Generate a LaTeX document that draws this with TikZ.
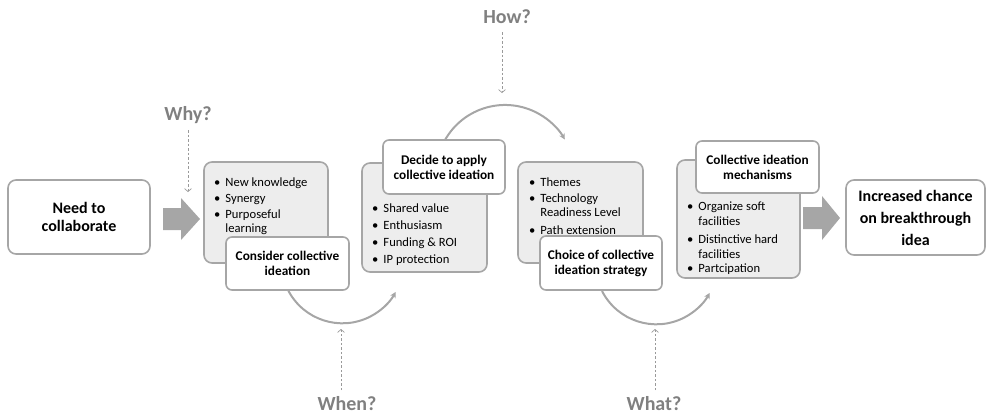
\documentclass[tikz,border=0pt]{standalone}
\usepackage{fontspec}
\setmainfont{Carlito}
\usetikzlibrary{arrows.meta}
\definecolor{bord}{HTML}{A6A6A6}
\definecolor{gfill}{HTML}{EDEDED}
\definecolor{qgray}{HTML}{808080}
\definecolor{dgray}{HTML}{9A9A9A}
\begin{document}
\begin{tikzpicture}[x=1pt,y=1pt,
  wbox/.style={draw=bord, line width=1.6pt, fill=white, rounded corners=6pt, align=center, inner sep=0pt, font=\fontsize{13.3}{15}\selectfont\bfseries},
  endbox/.style={draw=bord, line width=1.6pt, fill=white, rounded corners=8pt, align=center, inner sep=0pt},
  gbox/.style={draw=bord, line width=1.6pt, fill=gfill, rounded corners=8pt, inner sep=0pt},
  lst/.style={anchor=north west, inner sep=0pt, align=left, font=\fontsize{12.6}{15}\selectfont},
  qlabel/.style={text=qgray, inner sep=0pt, font=\fontsize{20}{22}\selectfont\bfseries},
  qarrow/.style={draw=dgray, line width=0.7pt, dash pattern=on 2.5pt off 2pt, -{Straight Barb[length=3pt,width=7pt]}},
  cyc/.style={draw=bord, line width=2pt, -{Stealth[length=6pt,width=6pt]}},
  blockarrow/.style={fill=bord, draw=none}
]
\useasboundingbox (0,0) rectangle (987,-415);

% start and end boxes
\node[endbox, minimum width=142pt, minimum height=74pt, font=\fontsize{16}{18}\selectfont\bfseries] (start) at (79,-217) {Need to\\collaborate};
\node[endbox, minimum width=139pt, minimum height=75pt, font=\fontsize{16}{22}\selectfont\bfseries] (end) at (915.5,-217.5) {Increased chance\\on breakthrough\\idea};

% block arrows
\path[blockarrow] (163,-208) -- (181,-208) -- (181,-198) -- (200,-219) -- (181,-240) -- (181,-230) -- (163,-230) -- cycle;
\path[blockarrow] (803,-207) -- (822,-207) -- (822,-196) -- (840,-218) -- (822,-240) -- (822,-229) -- (803,-229) -- cycle;

% gray boxes
\node[gbox, minimum width=124pt, minimum height=101pt] (g1) at (266,-212.5) {};
\node[gbox, minimum width=125pt, minimum height=109pt] (g2) at (424.5,-217.5) {};
\node[gbox, minimum width=125pt, minimum height=101pt] (g3) at (580.5,-212.5) {};
\node[gbox, minimum width=123pt, minimum height=118pt] (g4) at (738.5,-219) {};

% bullet lists
\node[lst] (l1) at (214,-175.5) {\begin{tabular}{@{}l@{\hspace{5pt}}l@{}}
\textbullet & New knowledge\\[1pt]
\textbullet & Synergy\\[1pt]
\textbullet & Purposeful\\[-1pt]
 & learning
\end{tabular}};
\node[lst] (l2) at (372,-202) {\begin{tabular}{@{}l@{\hspace{5pt}}l@{}}
\textbullet & Shared value\\[2pt]
\textbullet & Enthusiasm\\[2pt]
\textbullet & Funding \& ROI\\[2pt]
\textbullet & IP protection
\end{tabular}};
\node[lst] (l3) at (529,-176) {\begin{tabular}{@{}l@{\hspace{5pt}}l@{}}
\textbullet & Themes\\[1pt]
\textbullet & Technology\\[-1pt]
 & Readiness Level\\[3pt]
\textbullet & Path extension
\end{tabular}};
\node[lst] (l4) at (687,-199.5) {\begin{tabular}{@{}l@{\hspace{5pt}}l@{}}
\textbullet & Organize soft\\
 & facilities\\[3pt]
\textbullet & Distinctive hard\\
 & facilities\\[-1pt]
\textbullet & Partcipation
\end{tabular}};

% white title boxes
\node[wbox, minimum width=123pt, minimum height=53pt] (w1) at (287.5,-263.5) {Consider collective\\ideation};
\node[wbox, minimum width=122pt, minimum height=54pt] (w2) at (444,-167) {Decide to apply\\collective ideation};
\node[wbox, minimum width=122pt, minimum height=54pt] (w3) at (601,-263) {Choice of collective\\ideation strategy};
\node[wbox, minimum width=123pt, minimum height=52pt] (w4) at (757.5,-167) {Collective ideation\\mechanisms};

% cycle arcs
\coordinate (a1s) at (288,-290);
\coordinate (a2s) at (445,-140);
\coordinate (a3s) at (602,-291);
\draw[cyc] (a1s) arc[start angle=207, end angle=331, radius=61];
\draw[cyc] (a2s) arc[start angle=150.5, end angle=30, radius=69];
\draw[cyc] (a3s) arc[start angle=207, end angle=331, radius=61];

% question labels
\node[qlabel] (why) at (188,-115) {Why?};
\node[qlabel] (how) at (507,-17) {How?};
\node[qlabel] (when) at (347,-404) {When?};
\node[qlabel] (what) at (654,-404) {What?};
\coordinate (whyt) at (188,-192);
\coordinate (howt) at (502,-93);
\coordinate (whent) at (341,-329);
\coordinate (whatt) at (655,-329);
\draw[qarrow] (188,-130) -- (whyt);
\draw[qarrow] (502,-32) -- (howt);
\draw[qarrow] (341,-390) -- (whent);
\draw[qarrow] (655,-390) -- (whatt);
\end{tikzpicture}
\end{document}
